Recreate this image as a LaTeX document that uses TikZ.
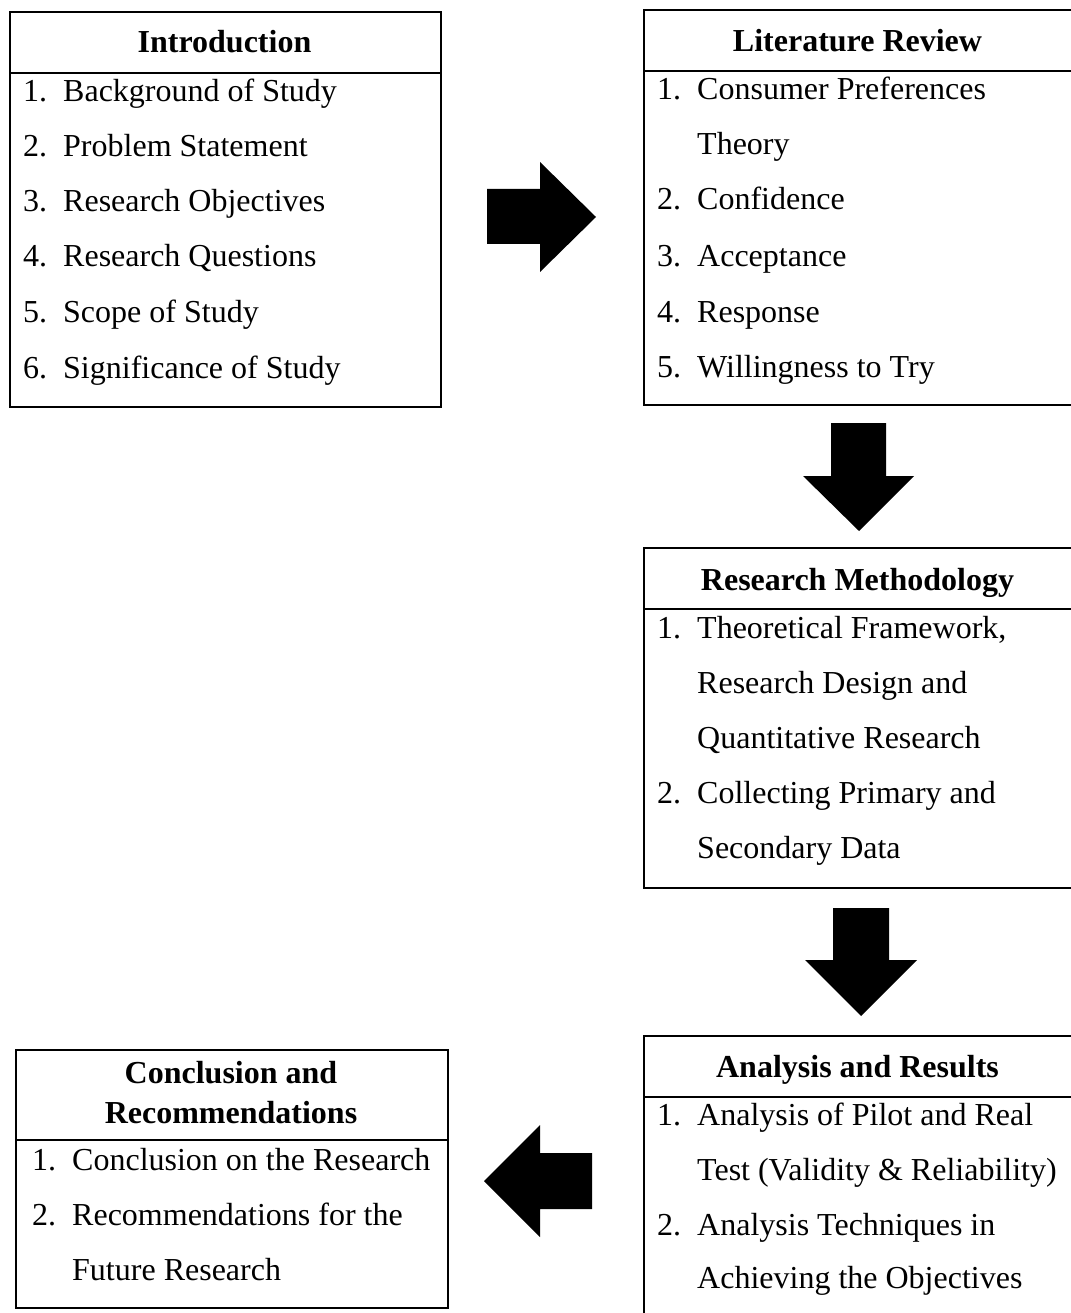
\documentclass[tikz,border=0pt]{standalone}
\usepackage{fontspec}
\setmainfont{Liberation Serif}
\begin{document}
\begin{tikzpicture}[x=1pt,y=-1pt,
  panel/.style={draw=black, line width=2pt, anchor=north west, inner sep=0, minimum width=#1},
  sep/.style={line width=2pt},
  txt/.style={font=\fontsize{32}{38}\selectfont, inner sep=0, anchor=base west},
  ttl/.style={font=\fontsize{32}{40}\selectfont\bfseries, inner sep=0, anchor=base, align=center},
  blockarrow/.style={fill=black, draw=none}]
\useasboundingbox (0,0) rectangle (1070,1313);
\fill[white] (0,0) rectangle (1070,1313);

% Introduction
\node[panel=431pt, minimum height=395pt] (intro) at (9,11) {};
\draw[sep] (9,73) -- (440,73);
\node[ttl] (introT) at (224.5,53) {Introduction};
\node[txt] (i1n) at (23,102) {1.}; \node[txt] (i1) at (63,102) {Background of Study};
\node[txt] (i2n) at (23,157) {2.}; \node[txt] (i2) at (63,157) {Problem Statement};
\node[txt] (i3n) at (23,212) {3.}; \node[txt] (i3) at (63,212) {Research Objectives};
\node[txt] (i4n) at (23,267) {4.}; \node[txt] (i4) at (63,267) {Research Questions};
\node[txt] (i5n) at (23,323) {5.}; \node[txt] (i5) at (63,323) {Scope of Study};
\node[txt] (i6n) at (23,378) {6.}; \node[txt] (i6) at (63,378) {Significance of Study};

% Literature Review
\node[panel=429pt, minimum height=395pt] (lit) at (643,9) {};
\draw[sep] (643,71) -- (1072,71);
\node[ttl] (litT) at (857.5,52) {Literature Review};
\node[txt] (l1n) at (657,100) {1.}; \node[txt] (l1) at (697,100) {Consumer Preferences};
\node[txt] (l1b) at (697,155) {Theory};
\node[txt] (l2n) at (657,210) {2.}; \node[txt] (l2) at (697,210) {Confidence};
\node[txt] (l3n) at (657,267) {3.}; \node[txt] (l3) at (697,267) {Acceptance};
\node[txt] (l4n) at (657,322) {4.}; \node[txt] (l4) at (697,322) {Response};
\node[txt] (l5n) at (657,377) {5.}; \node[txt] (l5) at (697,377) {Willingness to Try};

% Research Methodology
\node[panel=429pt, minimum height=340pt] (meth) at (643,547) {};
\draw[sep] (643,609) -- (1072,609);
\node[ttl] (methT) at (857.5,590) {Research Methodology};
\node[txt] (m1n) at (657,638) {1.}; \node[txt] (m1) at (697,638) {Theoretical Framework,};
\node[txt] (m1b) at (697,693) {Research Design and};
\node[txt] (m1c) at (697,748) {Quantitative Research};
\node[txt] (m2n) at (657,803) {2.}; \node[txt] (m2) at (697,803) {Collecting Primary and};
\node[txt] (m2b) at (697,858) {Secondary Data};

% Analysis and Results
\node[panel=429pt, minimum height=300pt] (anal) at (643,1035) {};
\draw[sep] (643,1097) -- (1072,1097);
\node[ttl] (analT) at (857.5,1077) {Analysis and Results};
\node[txt] (a1n) at (657,1125) {1.}; \node[txt] (a1) at (697,1125) {Analysis of Pilot and Real};
\node[txt] (a1b) at (697,1180) {Test (Validity \& Reliability)};
\node[txt] (a2n) at (657,1235) {2.}; \node[txt] (a2) at (697,1235) {Analysis Techniques in};
\node[txt] (a2b) at (697,1288) {Achieving the Objectives};

% Conclusion and Recommendations
\node[panel=432pt, minimum height=258pt] (conc) at (15,1049) {};
\draw[sep] (15,1140) -- (447,1140);
\node[ttl] (concT) at (231,1083) {Conclusion and};
\node[ttl] (concT2) at (231,1123) {Recommendations};
\node[txt] (c1n) at (32,1170) {1.}; \node[txt] (c1) at (72,1170) {Conclusion on the Research};
\node[txt] (c2n) at (32,1225) {2.}; \node[txt] (c2) at (72,1225) {Recommendations for the};
\node[txt] (c2b) at (72,1280) {Future Research};

% Block arrows
\fill[blockarrow] (487,189) -- (540,189) -- (540,162) -- (596,217) -- (540,272) -- (540,244) -- (487,244) -- cycle;
\fill[blockarrow] (831,423) -- (886,423) -- (886,476) -- (914,476) -- (859,531) -- (803,476) -- (831,476) -- cycle;
\fill[blockarrow] (833,908) -- (889,908) -- (889,960) -- (917,960) -- (861,1016) -- (805,960) -- (833,960) -- cycle;
\fill[blockarrow] (592,1153) -- (540,1153) -- (540,1125) -- (484,1181) -- (540,1237) -- (540,1209) -- (592,1209) -- cycle;
\end{tikzpicture}
\end{document}
